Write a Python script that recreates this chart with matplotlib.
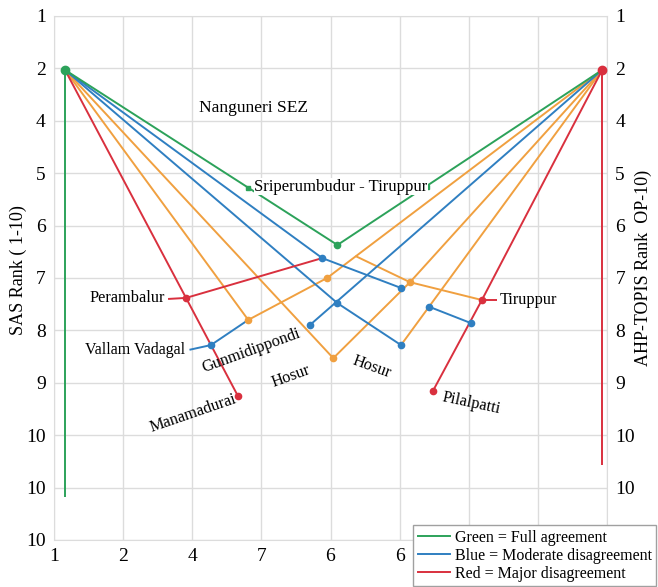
import matplotlib
matplotlib.use("Agg")
import matplotlib.pyplot as plt
from matplotlib.lines import Line2D

plt.rcParams["font.family"] = ["Liberation Serif", "DejaVu Serif"]

# colours
GREEN = "#2ca25a"
BLUE = "#2f7fc1"
ORANGE = "#f0a040"
RED = "#d9303e"

# tick labels (as printed on the chart; the last ones sit under the legend)
x_ticklabels = ["1", "2", "4", "7", "6", "6", "", "", ""]
left_ticklabels = ["1", "2", "4", "5", "6", "7", "8", "9", "10", "10", "10"]
right_ticklabels = ["1", "2", "4", "5", "6", "7", "8", "9", "10", "10", ""]

# line paths (grid units, y grows downward)
green_lines = [
    [(0.16, 1.03), (4.10, 4.37), (7.93, 1.03)],
    [(0.16, 1.03), (0.16, 9.18)],
]
blue_lines = [
    [(0.16, 1.03), (3.88, 4.62), (5.02, 5.19)],
    [(0.16, 1.03), (4.10, 5.48), (5.02, 6.28)],
    [(7.93, 1.03), (3.70, 5.90)],
    [(1.96, 6.37), (2.27, 6.28), (2.81, 5.80)],
    [(5.43, 5.55), (6.03, 5.86)],
]
orange_lines = [
    [(0.16, 1.03), (2.81, 5.80), (3.95, 5.00), (7.93, 1.03)],
    [(0.16, 1.03), (4.04, 6.53), (5.15, 5.08), (7.93, 1.03)],
    [(4.36, 4.58), (5.15, 5.08), (6.19, 5.42)],
    [(5.02, 6.28), (7.93, 1.03)],
]
red_lines = [
    [(0.16, 1.03), (1.91, 5.38), (2.66, 7.25)],
    [(1.65, 5.40), (1.91, 5.38), (3.88, 4.62)],
    [(7.93, 1.03), (6.19, 5.42), (5.48, 7.16)],
    [(6.19, 5.42), (6.41, 5.42)],
    [(7.93, 1.03), (7.93, 8.57)],
]

# marker points
green_pts = [(4.10, 4.37)]
green_squares = [(2.81, 3.28), (5.40, 3.26)]
blue_pts = [(3.88, 4.62), (5.02, 5.19), (4.10, 5.48), (5.02, 6.28), (3.70, 5.90),
            (2.27, 6.28), (5.43, 5.55), (6.03, 5.86)]
orange_pts = [(2.81, 5.80), (3.95, 5.00), (5.15, 5.08), (4.04, 6.53)]
red_pts = [(1.91, 5.38), (2.66, 7.25), (6.19, 5.42), (5.48, 7.16)]
hub_left = (0.16, 1.03)
hub_right = (7.93, 1.03)

fig = plt.figure(figsize=(6.58, 5.87), dpi=100)
ax = fig.add_axes([54 / 658, 1 - 540 / 587, 553 / 658, 524 / 587])

ax.set_xlim(0, 8)
ax.set_ylim(10, 0)
ax.set_xticks(range(9))
ax.set_xticklabels(x_ticklabels)
ax.set_yticks(range(11))
ax.set_yticklabels(left_ticklabels)
ax.grid(True, color="#dcdcdc", lw=1.0)
ax.set_axisbelow(True)
ax.tick_params(length=0, labelsize=14, pad=6)
for s in ax.spines.values():
    s.set_color("#dcdcdc")

ax2 = ax.twinx()
ax2.set_ylim(10, 0)
ax2.set_yticks(range(11))
ax2.set_yticklabels(right_ticklabels)
ax2.tick_params(length=0, labelsize=14, pad=6)
for s in ax2.spines.values():
    s.set_visible(False)


def draw(paths, color):
    for p in paths:
        xs = [q[0] for q in p]
        ys = [q[1] for q in p]
        ax.plot(xs, ys, color=color, lw=1.4, solid_capstyle="butt", zorder=3)


def dots(pts, color, marker="o", ms=4.5):
    ax.plot([q[0] for q in pts], [q[1] for q in pts], ls="none", marker=marker,
            ms=ms, color=color, zorder=4)


draw(orange_lines, ORANGE)
draw(blue_lines, BLUE)
draw(green_lines, GREEN)
draw(red_lines, RED)
dots(orange_pts, ORANGE)
dots(blue_pts, BLUE)
dots(green_pts, GREEN)
dots(green_squares, GREEN, marker="s", ms=3)
dots(red_pts, RED)
dots([hub_left], GREEN, ms=6)
dots([hub_right], RED, ms=6)

# labels
ax.text(2.88, 1.76, "Nanguneri SEZ", fontsize=12.5, ha="center", va="center")
ax.text(2.90, 3.26, "Sriperumbudur - Tiruppur", fontsize=12, ha="left", va="center",
        bbox=dict(facecolor="white", edgecolor="none", pad=0.5), zorder=5)
ax.text(1.61, 5.38, "Perambalur", fontsize=11.8, ha="right", va="center")
ax.text(1.90, 6.37, "Vallam Vadagal", fontsize=11.5, ha="right", va="center")
ax.text(6.45, 5.42, "Tiruppur", fontsize=11.8, ha="left", va="center")
ax.text(2.85, 6.39, "Gunmidippondi", fontsize=11.8, ha="center", va="center",
        rotation=20, rotation_mode="anchor")
ax.text(3.43, 6.87, "Hosur", fontsize=11.8, ha="center", va="center",
        rotation=20, rotation_mode="anchor")
ax.text(4.60, 6.70, "Hosur", fontsize=11.8, ha="center", va="center",
        rotation=-20, rotation_mode="anchor")
ax.text(2.01, 7.58, "Manamadurai", fontsize=11.8, ha="center", va="center",
        rotation=19, rotation_mode="anchor")
ax.text(6.03, 7.39, "Pilalpatti", fontsize=11.8, ha="center", va="center",
        rotation=-12, rotation_mode="anchor")

fig.text(18 / 658, 1 - 270 / 587, "SAS Rank ( 1-10)", rotation=90, fontsize=13,
         ha="center", va="center")
fig.text(643 / 658, 1 - 268 / 587, "AHP-TOPIS Rank  OP-10)", rotation=90, fontsize=13,
         ha="center", va="center")

handles = [Line2D([], [], color=GREEN, lw=1.4),
           Line2D([], [], color=BLUE, lw=1.4),
           Line2D([], [], color=RED, lw=1.4)]
leg = fig.legend(handles, ["Green = Full agreement", "Blue = Moderate disagreement",
                           "Red = Major disagreement"],
                 loc="upper left", bbox_to_anchor=(413 / 658, 1 - 525 / 587),
                 fontsize=11.5, frameon=True, fancybox=False, framealpha=1,
                 edgecolor="#a0a0a0", handlelength=2.0, handletextpad=0.3,
                 labelspacing=0.12, borderpad=0.3, borderaxespad=0)
leg.get_frame().set_linewidth(1.0)

fig.savefig("out.png", dpi=100)
